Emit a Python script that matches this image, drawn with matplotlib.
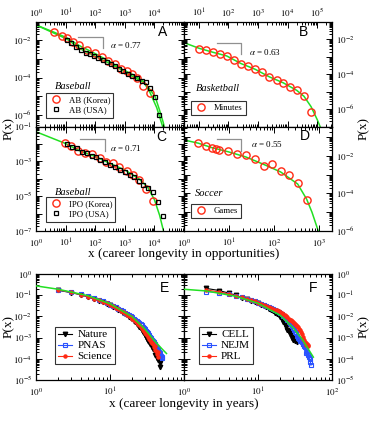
import numpy as np
import matplotlib
matplotlib.use("Agg")
import matplotlib.pyplot as plt
from matplotlib.ticker import LogLocator, FuncFormatter, NullFormatter

plt.rcParams['font.family'] = ['Liberation Serif', 'DejaVu Serif']
plt.rcParams['mathtext.fontset'] = 'stix'

# ---------------- data ----------------
# Panel A: baseball, at-bats
ab_korea_x = [4.2, 7.4, 10.9, 17.3, 27.6, 54, 98, 165, 278, 467, 725, 1156, 1706, 2650, 4230, 7100]
ab_korea_p = [0.025, 0.0166, 0.013, 0.008, 0.0051, 0.0029, 0.0019, 0.00117, 0.00077, 0.00051,
              0.0003, 0.00022, 0.000163, 0.0001, 3.6e-5, 1.5e-5]
ab_usa_x = [10.9, 15.2, 22.5, 33, 49, 67, 93, 128, 179, 244, 333, 467, 637, 892, 1250, 1706,
            2518, 3715, 5200, 7100, 10500, 14700]
ab_usa_p = [0.0098, 0.0065, 0.0043, 0.0029, 0.0021, 0.00174, 0.00142, 0.00112, 0.00084, 0.00066,
            0.00051, 0.0004, 0.0003, 0.00022, 0.000163, 0.000123, 8.9e-5, 6.6e-5, 5.9e-5, 2.9e-5,
            9.3e-6, 9.8e-7]
fit_a_korea_x = [1, 4.2, 10.9, 27.6, 98, 278, 725, 1706, 4230, 7100, 12000, 19000]
fit_a_korea_p = [0.062, 0.025, 0.013, 0.0052, 0.0019, 0.00078, 0.0003, 0.000155, 6.3e-5, 1.6e-5, 2.5e-6, 2.5e-7]
fit_a_usa_x = [1, 10.9, 33, 128, 467, 1706, 5200, 10500, 14700, 20000, 30000]
fit_a_usa_p = [0.062, 0.0112, 0.0032, 0.00112, 0.0004, 0.000123, 4.5e-5, 1e-5, 2e-6, 4e-7, 2.5e-8]

# Panel B: basketball, minutes
min_x = [10.2, 17, 31, 52, 87, 155, 267, 448, 792, 1330, 2415, 4275, 7180, 12000, 20200, 35800, 61700]
min_p = [0.003, 0.0024, 0.00178, 0.00143, 0.00114, 0.00064, 0.00041, 0.0003, 0.000195, 0.000136,
         7e-5, 4.5e-5, 3.2e-5, 1.9e-5, 1.2e-5, 5.4e-6, 6.7e-7]
fit_b_x = [3.16, 10.2, 31, 87, 267, 792, 2415, 7180, 20200, 35800, 61700, 100000, 125000]
fit_b_p = [0.0065, 0.0031, 0.0018, 0.00113, 0.00041, 0.000195, 7.1e-5, 3.2e-5, 1.2e-5, 5.4e-6, 1.4e-6, 2.5e-7, 1e-7]

# Panel C: baseball, innings pitched outs
ipo_korea_x = [9.6, 15.2, 26.9, 45, 76, 145, 232, 389, 637, 1156, 1845, 3100, 5200, 8740]
ipo_korea_p = [0.0108, 0.0076, 0.0041, 0.0031, 0.0025, 0.00148, 0.00095, 0.00076, 0.00045,
               0.00029, 0.000163, 8.5e-5, 2.6e-5, 5.2e-6]
ipo_usa_x = [10.9, 16, 23.7, 34.9, 51.5, 76, 106, 145, 214, 316, 467, 689, 1016, 1500, 2100,
             3100, 4230, 6240, 8740, 12900, 19000]
ipo_usa_p = [0.0095, 0.0063, 0.0056, 0.0036, 0.0029, 0.0021, 0.0017, 0.00118, 0.00087, 0.00062,
             0.00045, 0.00032, 0.00023, 0.000163, 0.00012, 7.7e-5, 4.4e-5, 2.8e-5, 1.65e-5, 4.4e-6, 7.2e-7]
fit_c_x = [1, 10, 30, 100, 300, 1000, 3000, 6000, 10000, 15000, 20000]
fit_c_p = [0.05, 0.0105, 0.0040, 0.0019, 0.00079, 0.00032, 0.0001, 3.2e-5, 6.3e-6, 8e-7, 1.1e-7]

# Panel D: soccer, games
games_x = [2.08, 3.08, 4.12, 5.14, 6.1, 9.7, 15.3, 23.5, 37.8, 60, 89, 141, 219, 336, 532]
games_p = [0.051, 0.0356, 0.0257, 0.0236, 0.021, 0.0185, 0.0128, 0.0109, 0.0069, 0.003, 0.0036,
           0.00165, 0.00097, 0.00035, 4.5e-5]
fit_d_x = [1, 2.08, 4.12, 9.7, 23.5, 60, 141, 336, 532, 700, 966]
fit_d_p = [0.071, 0.048, 0.028, 0.0166, 0.0089, 0.0035, 0.0014, 0.00032, 5e-5, 1e-5, 1e-6]

# Panel E: journals, career longevity in years (log10 P)
nature_x = list(range(2, 49))
nature_logp = [-0.77, -0.88, -0.98, -1.08, -1.17, -1.25, -1.32, -1.40, -1.47, -1.54, -1.61, -1.68,
               -1.75, -1.82, -1.88, -1.95, -2.01, -2.08, -2.14, -2.21, -2.28, -2.35, -2.42, -2.49,
               -2.57, -2.64, -2.72, -2.80, -2.88, -2.96, -3.05, -3.14, -3.22, -3.30, -3.25, -3.42,
               -3.55, -3.48, -3.65, -3.80, -3.72, -3.95, -3.85, -4.05, -3.90, -4.20, -4.38]
pnas_x = list(range(2, 52))
pnas_logp = [-0.76, -0.87, -0.96, -1.06, -1.15, -1.22, -1.29, -1.37, -1.44, -1.50, -1.57, -1.63,
             -1.70, -1.76, -1.82, -1.88, -1.93, -1.99, -2.05, -2.10, -2.15, -2.20, -2.25, -2.30,
             -2.36, -2.42, -2.48, -2.54, -2.60, -2.67, -2.74, -2.80, -2.88, -2.95, -3.02, -3.09,
             -3.16, -3.23, -3.30, -3.36, -3.43, -3.48, -3.55, -3.60, -3.68, -3.72, -3.80, -3.85,
             -3.90, -3.95]
science_x = list(range(2, 46))
science_logp = [-0.75, -0.86, -0.97, -1.07, -1.16, -1.24, -1.31, -1.39, -1.46, -1.53, -1.60, -1.66,
                -1.73, -1.79, -1.86, -1.92, -1.98, -2.04, -2.10, -2.17, -2.23, -2.29, -2.36, -2.42,
                -2.49, -2.55, -2.62, -2.69, -2.76, -2.83, -2.90, -2.97, -3.05, -3.12, -3.20, -3.27,
                -3.31, -3.45, -3.40, -3.58, -3.62, -3.75, -3.70, -3.90]
fit_e_x = [1, 2, 5, 10, 20, 30, 40, 50, 58]
fit_e_logp = [-0.56, -0.72, -1.02, -1.40, -2.02, -2.62, -3.15, -3.52, -3.75]

# Panel F
cell_x = list(range(2, 37))
cell_logp = [-0.68, -0.78, -0.90, -1.00, -1.12, -1.18, -1.26, -1.32, -1.38, -1.45, -1.52, -1.58,
             -1.65, -1.70, -1.76, -1.82, -1.88, -1.95, -2.02, -2.12, -2.25, -2.35, -2.50, -2.62,
             -2.70, -2.85, -2.80, -3.00, -3.10, -2.95, -3.15, -3.05, -3.20, -3.15, -3.10]
nejm_x = list(range(2, 53))
nejm_logp = [-0.83, -0.88, -0.95, -1.03, -1.10, -1.17, -1.23, -1.29, -1.35, -1.40, -1.45, -1.50,
             -1.55, -1.60, -1.65, -1.70, -1.75, -1.80, -1.85, -1.90, -1.96, -2.02, -2.08, -2.15,
             -2.22, -2.30, -2.38, -2.46, -2.54, -2.62, -2.72, -2.80, -2.92, -3.00, -3.05, -3.15,
             -3.10, -3.22, -3.30, -3.28, -3.40, -3.45, -3.48, -3.72, -3.70, -3.75, -3.80, -3.90,
             -4.00, -4.15, -4.30]
prl_x = list(range(2, 49))
prl_logp = [-0.75, -0.85, -0.93, -1.02, -1.10, -1.17, -1.23, -1.29, -1.35, -1.40, -1.45, -1.50,
            -1.55, -1.60, -1.64, -1.68, -1.72, -1.76, -1.80, -1.85, -1.90, -1.95, -2.00, -2.05,
            -2.10, -2.15, -2.19, -2.22, -2.26, -2.30, -2.35, -2.40, -2.45, -2.50, -2.58, -2.66,
            -2.75, -2.85, -2.95, -3.05, -3.12, -3.20, -3.27, -3.33, -3.30, -3.35, -3.38]
fit_f_x = [1, 2, 5, 10, 20, 30, 40, 50, 56]
fit_f_logp = [-0.72, -0.80, -1.05, -1.38, -1.95, -2.55, -3.10, -3.65, -3.92]

# ---------------- style ----------------
RED = '#ff2a14'
GREEN = '#22e022'
BLUE = '#2a52ff'
W, H = 373, 425

fig = plt.figure(figsize=(W / 100, H / 100), dpi=100)


def box(l, r, t, b):
    return [l / W, 1 - b / H, (r - l) / W, (b - t) / H]


def fmt_factory(allowed):
    def f(v, pos):
        e = int(round(np.log10(v)))
        if abs(np.log10(v) - e) > 1e-6 or e not in allowed:
            return ''
        return r'$10^{%d}$' % e
    return FuncFormatter(f)


def setup(ax, xlim, ylim, xlab, ylab, xside, yside):
    ax.set_xscale('log')
    ax.set_yscale('log')
    ax.set_xlim(*xlim)
    ax.set_ylim(*ylim)
    for axis in (ax.xaxis, ax.yaxis):
        axis.set_major_locator(LogLocator(base=10, numticks=20))
        axis.set_minor_locator(LogLocator(base=10, subs=np.arange(2, 10), numticks=20))
        axis.set_minor_formatter(NullFormatter())
    ax.xaxis.set_major_formatter(fmt_factory(xlab))
    ax.yaxis.set_major_formatter(fmt_factory(ylab))
    ax.tick_params(which='both', direction='in', top=True, right=True, bottom=True, left=True,
                   labelsize=6.5, pad=2, width=0.7)
    ax.tick_params(axis='x', pad=4.5 if xside == 'bottom' else 2.5)
    ax.tick_params(axis='y', pad=3)
    ax.tick_params(which='major', length=4.5)
    ax.tick_params(which='minor', length=2.5)
    ax.tick_params(labeltop=(xside == 'top'), labelbottom=(xside == 'bottom'),
                   labelleft=(yside == 'left'), labelright=(yside == 'right'))
    for s in ax.spines.values():
        s.set_linewidth(0.9)


def corner_legend(ax, loc_xy, **kw):
    leg = ax.legend(loc='lower left', bbox_to_anchor=loc_xy, frameon=True, fancybox=False,
                    fontsize=6.3, handlelength=1.6, handletextpad=0.6, borderpad=0.35,
                    labelspacing=0.25, borderaxespad=0, **kw)
    leg.get_frame().set_edgecolor('black')
    leg.get_frame().set_linewidth(0.8)
    return leg


def bracket(ax, x0, x1, y0, y1, text, tx, ty):
    ax.plot([x0, x1, x1], [y0, y0, y1], color='#909090', lw=0.9, transform=ax.transAxes,
            clip_on=False)
    ax.text(tx, ty, text, transform=ax.transAxes, fontsize=6.5, va='center', ha='left')


def letter(ax, s, x, y):
    ax.text(x, y, s, transform=ax.transAxes, fontsize=10, family='Liberation Sans',
            ha='center', va='center')


circ = dict(ls='none', marker='o', ms=5.2, mfc='none', mec=RED, mew=1.0)
sq = dict(ls='none', marker='s', ms=2.8, mfc='none', mec='black', mew=0.9)

# ---- A ----
axA = fig.add_axes(box(36, 184, 22, 126.5))
setup(axA, (1, 1e5), (10 ** -6.6, 10 ** -1.05), [0, 1, 2, 3, 4], [-2, -4, -6], 'top', 'left')
axA.plot(fit_a_korea_x, fit_a_korea_p, color=GREEN, lw=1.1, zorder=1)
axA.plot(fit_a_usa_x, fit_a_usa_p, color=GREEN, lw=1.1, zorder=1)
axA.plot(ab_korea_x, ab_korea_p, label='AB (Korea)', **circ)
axA.plot(ab_usa_x, ab_usa_p, label='AB (USA)', **sq)
corner_legend(axA, (0.07, 0.085))
axA.text(0.25, 0.385, 'Baseball', transform=axA.transAxes, style='italic', fontsize=7.5,
         ha='center', va='center')
bracket(axA, 0.285, 0.455, 0.86, 0.755, r'$\alpha$ = 0.77', 0.5, 0.78)
letter(axA, 'A', 0.855, 0.9)

# ---- B ----
axB = fig.add_axes(box(184, 332, 22, 126.5))
setup(axB, (10 ** 0.5, 10 ** 5.5), (1e-7, 1e-1), [1, 2, 3, 4, 5], [-2, -4, -6], 'top', 'right')
axB.plot(fit_b_x, fit_b_p, color=GREEN, lw=1.1, zorder=1)
axB.plot(min_x, min_p, label='Minutes', **circ)
corner_legend(axB, (0.05, 0.11))
axB.text(0.23, 0.36, 'Basketball', transform=axB.transAxes, style='italic', fontsize=7.5,
         ha='center', va='center')
bracket(axB, 0.22, 0.385, 0.8, 0.69, r'$\alpha$ = 0.63', 0.44, 0.71)
letter(axB, 'B', 0.81, 0.905)

# ---- C ----
axC = fig.add_axes(box(36, 184, 126.5, 231))
setup(axC, (1, 1e5), (1e-7, 1e-1), [0, 1, 2, 3, 4], [-1, -3, -5, -7], 'bottom', 'left')
axC.plot(fit_c_x, fit_c_p, color=GREEN, lw=1.1, zorder=1)
axC.plot(ipo_korea_x, ipo_korea_p, label='IPO (Korea)', **circ)
axC.plot(ipo_usa_x, ipo_usa_p, label='IPO (USA)', **sq)
corner_legend(axC, (0.07, 0.09))
axC.text(0.25, 0.37, 'Baseball', transform=axC.transAxes, style='italic', fontsize=7.5,
         ha='center', va='center')
bracket(axC, 0.3, 0.465, 0.88, 0.77, r'$\alpha$ = 0.71', 0.5, 0.795)
letter(axC, 'C', 0.845, 0.9)

# ---- D ----
axD = fig.add_axes(box(184, 332, 126.5, 231))
setup(axD, (1, 10 ** 3.29), (1e-6, 10 ** -0.43), [0, 1, 2, 3], [-2, -4, -6], 'bottom', 'right')
axD.plot(fit_d_x, fit_d_p, color=GREEN, lw=1.1, zorder=1)
axD.plot(games_x, games_p, label='Games', **circ)
corner_legend(axD, (0.05, 0.12))
axD.text(0.17, 0.355, 'Soccer', transform=axD.transAxes, style='italic', fontsize=7.5,
         ha='center', va='center')
bracket(axD, 0.22, 0.385, 0.88, 0.77, r'$\alpha$ = 0.55', 0.45, 0.83)
letter(axD, 'D', 0.815, 0.905)

fig.text(184 / W, 1 - 254 / H, 'x (career longevity in opportunities)', ha='center', va='center',
         fontsize=9.5)
fig.text(9 / W, 1 - 128 / H, 'P(x)', rotation=90, ha='center', va='center', fontsize=9.5)
fig.text(364 / W, 1 - 128 / H, 'P(x)', rotation=90, ha='center', va='center', fontsize=9.5)

# ---- E ----
tri = dict(marker='v', ms=3.2, color='black', mfc='black', lw=0.8)
bsq = dict(marker='s', ms=3.0, color=BLUE, mfc='none', mec=BLUE, lw=0.8, mew=0.8)
rdot = dict(marker='o', ms=2.2, color=RED, mfc=RED, mec=RED, lw=0.8)

axE = fig.add_axes(box(36, 184, 274, 380))
setup(axE, (1, 100), (1e-5, 1), [0, 1], [0, -1, -2, -3, -4, -5], 'bottom', 'left')
axE.plot(nature_x, 10 ** np.array(nature_logp), label='Nature', **tri)
axE.plot(pnas_x, 10 ** np.array(pnas_logp), label='PNAS', **bsq)
axE.plot(science_x, 10 ** np.array(science_logp), label='Science', **rdot)
axE.plot(fit_e_x, 10 ** np.array(fit_e_logp), color=GREEN, lw=1.1, zorder=5)
legE = corner_legend(axE, (0.13, 0.15))
for t in legE.get_texts():
    t.set_fontsize(8)
letter(axE, 'E', 0.865, 0.87)

axF = fig.add_axes(box(184, 332, 274, 380))
setup(axF, (1, 100), (1e-5, 1), [0, 1, 2], [0, -1, -2, -3, -4, -5], 'bottom', 'right')
axF.plot(cell_x, 10 ** np.array(cell_logp), label='CELL', **tri)
axF.plot(nejm_x, 10 ** np.array(nejm_logp), label='NEJM', **bsq)
axF.plot(prl_x, 10 ** np.array(prl_logp), label='PRL', **rdot)
axF.plot(fit_f_x, 10 ** np.array(fit_f_logp), color=GREEN, lw=1.1, zorder=5)
legF = corner_legend(axF, (0.1, 0.15))
for t in legF.get_texts():
    t.set_fontsize(8)
letter(axF, 'F', 0.875, 0.87)

fig.text(184 / W, 1 - 404 / H, 'x (career longevity in years)', ha='center', va='center',
         fontsize=9.5)
fig.text(9 / W, 1 - 327 / H, 'P(x)', rotation=90, ha='center', va='center', fontsize=9.5)
fig.text(364 / W, 1 - 327 / H, 'P(x)', rotation=90, ha='center', va='center', fontsize=9.5)

fig.savefig('out.png', dpi=100)
